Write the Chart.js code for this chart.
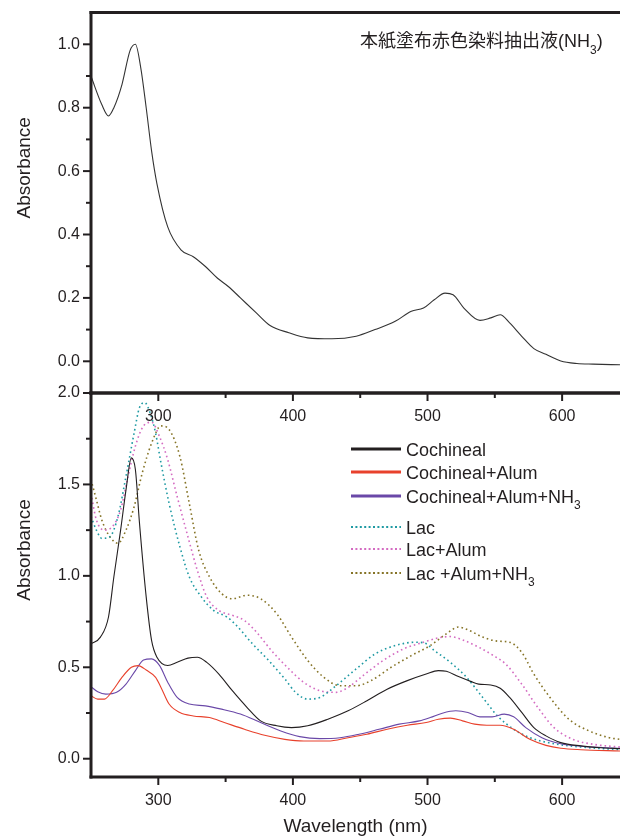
<!DOCTYPE html>
<html>
<head>
<meta charset="utf-8">
<script src="https://cdn.jsdelivr.net/npm/chart.js@4.4.0/dist/chart.umd.min.js"></script>
<style>
  html, body { margin: 0; padding: 0; background: #fff; }
  #wrap { position: relative; width: 620px; height: 839px; overflow: hidden; }
  canvas { position: absolute; left: 0; top: 0; }
</style>
</head>
<body>
<div id="wrap">
  <canvas id="lower" width="620" height="839"></canvas>
  <canvas id="upper" width="620" height="440"></canvas>
</div>
<script>
// wavelength axis (nm) and tick labels
const wlMin = 250, wlMax = 643;
const xTicks = [300, 400, 500, 600];
const xMinor = [350, 450, 550];
const topYTicks = [0, 0.2, 0.4, 0.6, 0.8, 1.0];
const topYMinor = [0.1, 0.3, 0.5, 0.7, 0.9];
const bottomYTicks = [0, 0.5, 1.0, 1.5, 2.0];
const bottomYMinor = [0.25, 0.75, 1.25, 1.75];

// upper panel: 本紙塗布赤色染料抽出液(NH3)
const topWl  = [250,258,263,267,273,279,283,287,291,295,299,307,317,326,335,344,352,361,373,383,397,411,429,447,461,476,488,497,505,513,519,527,539,547,554,561,570,579,588,599,611,623,643];
const topAbs = [0.899,0.81,0.774,0.80,0.873,0.98,1.0,0.925,0.80,0.664,0.56,0.424,0.351,0.33,0.299,0.262,0.236,0.20,0.152,0.113,0.09,0.074,0.071,0.079,0.10,0.126,0.158,0.168,0.194,0.215,0.21,0.168,0.129,0.137,0.147,0.121,0.079,0.04,0.022,0.001,-0.007,-0.009,-0.011];

// lower panel
const cochWl  = [250,257,263,267,272,276,280,283,286,291,295,299,307,314,322,329,336,345,355,366,376,388,399,411,426,441,455,470,485,499,508,514,523,532,538,547,554,561,570,579,588,599,614,629,643];
const cochAbs = [0.628,0.665,0.775,0.995,1.25,1.47,1.645,1.58,1.29,0.885,0.647,0.555,0.51,0.527,0.55,0.555,0.527,0.463,0.372,0.28,0.207,0.18,0.17,0.18,0.216,0.262,0.317,0.38,0.427,0.463,0.482,0.478,0.449,0.423,0.408,0.403,0.385,0.335,0.253,0.17,0.125,0.088,0.07,0.06,0.055];

const alumWl  = [250,255,260,266,273,280,285,291,298,302,308,316,326,338,349,364,379,394,408,426,441,455,470,485,499,508,517,526,535,544,554,564,576,588,599,614,643];
const alumAbs = [0.344,0.326,0.326,0.372,0.445,0.50,0.509,0.485,0.445,0.39,0.299,0.253,0.234,0.225,0.198,0.161,0.128,0.106,0.097,0.097,0.115,0.134,0.161,0.183,0.198,0.216,0.222,0.207,0.189,0.183,0.183,0.161,0.106,0.073,0.057,0.049,0.042];

const nh3Wl  = [250,255,261,269,276,283,289,295,301,307,314,323,335,347,361,376,391,405,420,435,449,464,479,494,502,511,521,530,539,548,557,564,573,585,599,614,643];
const nh3Abs = [0.394,0.366,0.353,0.363,0.408,0.482,0.54,0.546,0.509,0.418,0.335,0.299,0.289,0.271,0.244,0.198,0.152,0.121,0.11,0.115,0.134,0.161,0.189,0.207,0.225,0.249,0.262,0.253,0.229,0.229,0.244,0.229,0.17,0.115,0.082,0.068,0.057];

const lacWl  = [250,254,258,264,270,276,282,286,290,294,298,302,308,316,323,332,341,351,358,370,382,394,402,411,420,432,447,461,476,491,498,505,517,529,541,552,564,576,594,614,643];
const lacAbs = [1.324,1.25,1.205,1.214,1.324,1.544,1.78,1.92,1.947,1.89,1.78,1.617,1.397,1.16,0.995,0.885,0.811,0.775,0.729,0.628,0.537,0.436,0.363,0.326,0.335,0.399,0.491,0.573,0.619,0.637,0.632,0.592,0.527,0.445,0.335,0.234,0.161,0.115,0.082,0.064,0.049];

const lacAlumWl  = [250,254,260,266,272,277,283,289,295,301,307,314,322,329,336,345,355,364,373,384,397,408,420,432,441,452,467,482,497,508,517,526,538,549,558,570,582,594,608,623,643];
const lacAlumAbs = [1.45,1.306,1.25,1.27,1.36,1.526,1.71,1.82,1.84,1.76,1.635,1.434,1.214,1.03,0.885,0.811,0.784,0.756,0.692,0.592,0.491,0.418,0.372,0.363,0.39,0.454,0.537,0.60,0.637,0.661,0.668,0.65,0.61,0.564,0.518,0.408,0.28,0.17,0.106,0.079,0.064];

const lacNh3Wl  = [250,254,258,264,270,276,282,288,295,302,308,316,323,330,338,347,355,366,376,388,399,411,423,435,447,458,473,488,502,514,523,530,541,552,561,570,579,591,605,620,635,643];
const lacNh3Abs = [1.526,1.416,1.306,1.214,1.178,1.25,1.377,1.56,1.725,1.82,1.80,1.654,1.397,1.14,0.995,0.903,0.875,0.894,0.875,0.793,0.665,0.537,0.445,0.399,0.399,0.427,0.50,0.564,0.619,0.683,0.72,0.705,0.665,0.643,0.637,0.582,0.463,0.335,0.216,0.152,0.115,0.106];

const INK = '#231f20';
const FAM = '"Liberation Sans", Arial, "Noto Sans CJK JP", sans-serif';

function series(label, wl, abs, color, dotted) {
  return {
    label: label,
    data: wl.map((w, i) => ({ x: w, y: abs[i] })),
    borderColor: color,
    borderWidth: dotted ? 1.6 : 1.1,
    borderDash: dotted ? [1.6, 3] : [],
    pointRadius: 0,
    cubicInterpolationMode: 'monotone',
    fill: false
  };
}

// text with NH3 -> NH + subscript 3
function drawLabel(ctx, text, x, y, size) {
  const parts = text.split(/(?<=NH)(3)/);
  let cx = x;
  parts.forEach((p, i) => {
    const sub = (i % 2 === 1);
    ctx.font = (sub ? Math.round(size * 0.66) : size) + 'px ' + FAM;
    ctx.fillText(p, cx, sub ? y + size * 0.38 : y);
    cx += ctx.measureText(p).width;
  });
}

// ticks (major/minor) and the heavy frame
const framePlugin = {
  id: 'frame',
  afterDraw(chart, args, opts) {
    const { ctx, chartArea: a, scales: { x, y } } = chart;
    const line = (x1, y1, x2, y2) => { ctx.beginPath(); ctx.moveTo(x1, y1); ctx.lineTo(x2, y2); ctx.stroke(); };
    ctx.save();
    ctx.strokeStyle = INK;
    ctx.lineWidth = 2;
    opts.yMajor.forEach(v => { const p = y.getPixelForValue(v); line(a.left - 8, p, a.left, p); });
    opts.yMinor.forEach(v => { const p = y.getPixelForValue(v); line(a.left - 5, p, a.left, p); });
    opts.xMajor.forEach(v => { const p = x.getPixelForValue(v); line(p, a.bottom, p, a.bottom + 8); });
    opts.xMinor.forEach(v => { const p = x.getPixelForValue(v); line(p, a.bottom, p, a.bottom + 5); });
    ctx.lineWidth = 3;
    line(a.left, a.top - 1.5, a.left, a.bottom + 1.5);
    line(a.left - 1.5, a.bottom, a.right, a.bottom);
    if (opts.topBorder) line(a.left - 1.5, a.top, a.right, a.top);
    // y axis title
    ctx.fillStyle = INK;
    ctx.font = '19px ' + FAM;
    ctx.textAlign = 'center';
    ctx.textBaseline = 'alphabetic';
    ctx.translate(23, (a.top + a.bottom) / 2 - 35);
    ctx.rotate(-Math.PI / 2);
    ctx.fillText('Absorbance', 0, 7);
    ctx.restore();
  }
};

const notePlugin = {
  id: 'note',
  afterDraw(chart, args, opts) {
    if (!opts.text) return;
    const ctx = chart.ctx;
    ctx.save();
    ctx.fillStyle = INK;
    ctx.textAlign = 'left';
    ctx.textBaseline = 'alphabetic';
    drawLabel(ctx, opts.text, 360, 47, 18);
    ctx.restore();
  }
};

const legendRows = [449, 472, 496, 527, 549, 573];
const keyPlugin = {
  id: 'key',
  afterDraw(chart, args, opts) {
    if (!opts.show) return;
    const ctx = chart.ctx;
    ctx.save();
    chart.data.datasets.forEach((ds, i) => {
      const yy = legendRows[i];
      const dotted = ds.borderDash.length > 0;
      ctx.strokeStyle = ds.borderColor;
      ctx.lineWidth = dotted ? 2 : 3;
      ctx.setLineDash(dotted ? [2, 2.4] : []);
      ctx.beginPath(); ctx.moveTo(351, yy); ctx.lineTo(401, yy); ctx.stroke();
      ctx.setLineDash([]);
      ctx.fillStyle = INK;
      ctx.textAlign = 'left';
      ctx.textBaseline = 'alphabetic';
      drawLabel(ctx, ds.label, 406, yy + 6.5, 18);
    });
    ctx.restore();
  }
};

function makeChart(canvas, datasets, yMin, yMax, yTicks, yMinorTicks, opts) {
  return new Chart(canvas, {
    type: 'line',
    data: { datasets: datasets },
    options: {
      responsive: false,
      animation: false,
      devicePixelRatio: 1,
      events: [],
      layout: { padding: { top: opts.top, left: 0, right: 0, bottom: 0 } },
      scales: {
        x: {
          type: 'linear', min: wlMin, max: wlMax,
          grid: { display: false, tickLength: 8 },
          border: { display: false },
          ticks: { color: INK, font: { family: FAM, size: 16 }, padding: 6, maxRotation: 0, autoSkip: false },
          afterBuildTicks: s => { s.ticks = xTicks.map(v => ({ value: v })); },
          afterFit: s => { s.height = opts.xHeight; },
          title: { display: !!opts.xTitle, text: opts.xTitle || '', color: INK, font: { family: FAM, size: 19 }, padding: { top: 0, bottom: 1 } }
        },
        y: {
          type: 'linear', min: yMin, max: yMax,
          grid: { display: false, tickLength: 8 },
          border: { display: false },
          ticks: { color: INK, font: { family: FAM, size: 16 }, padding: 3, callback: v => Number(v).toFixed(1) },
          afterBuildTicks: s => { s.ticks = yTicks.map(v => ({ value: v })); },
          afterFit: s => { s.width = 91; }
        }
      },
      plugins: {
        legend: { display: false },
        tooltip: { enabled: false },
        frame: { yMajor: yTicks, yMinor: yMinorTicks, xMajor: xTicks, xMinor: xMinor, topBorder: opts.topBorder },
        note: { text: opts.note || '' },
        key: { show: !!opts.key }
      }
    },
    plugins: [framePlugin, notePlugin, keyPlugin]
  });
}

makeChart(document.getElementById('lower'), [
  series('Cochineal', cochWl, cochAbs, '#231f20', false),
  series('Cochineal+Alum', alumWl, alumAbs, '#e8412c', false),
  series('Cochineal+Alum+NH3', nh3Wl, nh3Abs, '#6a48a8', false),
  series('Lac', lacWl, lacAbs, '#1f9aa3', true),
  series('Lac+Alum', lacAlumWl, lacAlumAbs, '#d46cc2', true),
  series('Lac +Alum+NH3', lacNh3Wl, lacNh3Abs, '#867427', true)
], -0.1, 2.0, bottomYTicks, bottomYMinor, { top: 393, xHeight: 62, xTitle: 'Wavelength (nm)', key: true, topBorder: true });

makeChart(document.getElementById('upper'), [
  series('本紙塗布赤色染料抽出液(NH3)', topWl, topAbs, '#333333', false)
], -0.1, 1.1, topYTicks, topYMinor, { top: 12, xHeight: 47, note: '本紙塗布赤色染料抽出液(NH3)', topBorder: true });
</script>
</body>
</html>
